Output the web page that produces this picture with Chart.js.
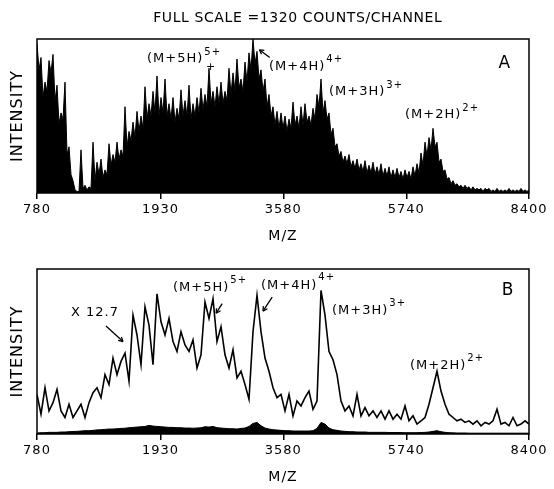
<!DOCTYPE html>
<html><head><meta charset="utf-8">
<script src="https://cdn.jsdelivr.net/npm/chart.js@4.4.1/dist/chart.umd.min.js"></script>
<style>
html,body{margin:0;padding:0;background:#fff;}
#wrap{position:relative;width:554px;height:489px;background:#fff;}
.box{position:absolute;left:0;width:554px;}
</style></head><body>
<div id="wrap">
<div class="box" style="top:0;height:248px"><canvas id="ca" width="554" height="248"></canvas></div>
<div class="box" style="top:248px;height:241px"><canvas id="cb" width="554" height="241"></canvas></div>
</div>
<script>
// ---- data ----
const tickLabels = [780, 1930, 3580, 5740, 8400];          // m/z tick labels (TOF axis, linear in sqrt(m/z))
const titleText = 'FULL SCALE =1320 COUNTS/CHANNEL';
const ionLabels = ['(M+5H)', '(M+4H)', '(M+3H)', '(M+2H)'];
const ionCharges = ['5+', '4+', '3+', '2+'];
const scaleNote = 'X 12.7';

// panel A: intensity per channel (even flight-time steps), % of full scale
const spectrumA = [
 97,80,88,62,72,66,86,78,90,60,70,45,52,48,72,25,30,12,8,2,
 1,1,28,3,5,2,4,3,33,8,20,12,22,10,15,12,32,18,25,20,
 33,22,28,24,56,30,40,34,46,36,53,40,50,42,69,48,58,50,66,52,
 76,50,62,52,74,50,58,48,62,46,55,48,67,50,60,50,70,48,58,50,
 62,52,68,54,64,56,81,58,66,56,69,58,72,58,66,60,81,64,78,66,
 87,68,74,66,85,72,91,80,100,84,92,74,80,66,74,56,64,50,56,44,
 53,42,52,42,50,40,48,42,59,44,50,42,56,44,58,46,50,44,55,48,
 64,56,74,52,60,48,52,38,42,30,32,24,27,20,24,19,25,17,21,16,
 22,15,19,14,21,13,18,13,20,12,17,12,19,11,16,11,17,10,15,10,
 16,10,14,9,15,10,14,9,17,11,19,13,26,18,33,24,36,28,42,30,
 33,20,22,14,15,9,10,6,8,5,6,4,5,3,5,3,4,2,4,2,
 3,2,3,1,3,2,3,1,2,1,3,1,2,1,2,1,3,1,2,1,
 2,1,3,1,2,1,2];

// panel B: expanded trace (x12.7), % of panel height
const spectrumBx12 = [
 24,12,28,14,19,27,14,10,18,10,
 14,18,10,19,25,28,22,36,30,46,
 36,44,49,32,72,60,42,77,66,42,
 85,68,60,70,56,50,62,54,50,57,
 40,48,80,70,82,56,65,48,40,51,
 34,38,30,21,62,84,62,46,38,28,
 22,24,14,24,11,20,17,22,26,15,
 20,87,72,50,45,36,20,14,17,11,
 24,11,16,11,14,10,14,9,14,9,
 12,9,17,8,11,6,8,10,18,28,
 38,26,18,12,10,8,9,7,8,6,
 8,5,7,6,8,15,6,7,5,10,
 5,6,8,6];

// panel B: unexpanded spectrum (filled, bottom)
const spectrumB = [
 0.6,0.8,0.8,1,1,1,1.2,1.2,1.4,
 1.5,1.6,1.8,2,2,2.2,2.5,2.6,2.8,
 3,3,3.2,3.4,3.5,3.8,4,4.2,4.4,
 4.6,5.2,4.8,4.6,4.4,4.2,4,4,3.8,
 3.8,3.6,3.6,3.5,3.6,3.8,4.4,4.2,4.6,
 3.8,3.6,3.4,3.2,3.2,3,3.4,3.6,4.6,
 6.4,7,5,3.6,3,2.6,2.4,2.2,2,
 2,1.8,1.8,1.8,1.8,1.8,2,3.4,7,
 6,3.6,2.6,2.2,1.8,1.6,1.4,1.4,1.2,
 1.2,1.2,1,1,1,1,1,0.9,0.9,
 0.9,0.9,0.8,0.8,0.8,0.8,0.9,1,1.2,
 1.6,2,1.4,1,0.8,0.7,0.6,0.6,0.6,
 0.5,0.5,0.5,0.5,0.5,0.5,0.5,0.5,0.5,0.5,0.5,0.5,0.5,0.5,0.5,0.5];

// ---- helpers ----
const FONT = 'DejaVu Sans';
const sMin = Math.sqrt(tickLabels[0]), sMax = Math.sqrt(tickLabels[tickLabels.length-1]);
const tOf = mz => (Math.sqrt(mz) - sMin) / (sMax - sMin);      // normalized flight time
const pts = arr => arr.map((v, i) => ({x: i / (arr.length - 1), y: v}));

function xScale(){
  return {
    type: 'linear', min: 0, max: 1,
    afterBuildTicks: s => { s.ticks = tickLabels.map(m => ({value: tOf(m)})); },
    ticks: {callback: (v, i) => String(tickLabels[i]), autoSkip: false, maxRotation: 0,
            font: {family: FONT, size: 13}, color: '#000', padding: 3},
    grid: {display: true, drawOnChartArea: false, drawTicks: true, tickLength: 6, color: '#000', lineWidth: 1.5},
    border: {display: false},
    title: {display: true, text: 'M/Z', color: '#000', font: {family: FONT, size: 14}, padding: {top: 0, bottom: 3}},
    afterFit: s => { s.height = 55; }
  };
}
function yScale(){
  return {
    min: 0, max: 100,
    ticks: {display: false}, grid: {display: false}, border: {display: false},
    title: {display: true, text: 'INTENSITY', color: '#000', font: {family: FONT, size: 16}, padding: {top: 8, bottom: 0}},
    afterFit: s => { s.width = 37; }
  };
}

function arrow(ctx, x1, y1, x2, y2){
  ctx.beginPath(); ctx.moveTo(x1, y1); ctx.lineTo(x2, y2); ctx.stroke();
  const a = Math.atan2(y2 - y1, x2 - x1), h = 5;
  ctx.beginPath();
  ctx.moveTo(x2, y2); ctx.lineTo(x2 - h*Math.cos(a - 0.5), y2 - h*Math.sin(a - 0.5));
  ctx.moveTo(x2, y2); ctx.lineTo(x2 - h*Math.cos(a + 0.5), y2 - h*Math.sin(a + 0.5));
  ctx.stroke();
}

function decorPlugin(panel){
  return {
    id: 'decor' + panel.letter,
    beforeDraw(chart){ chart.ctx.letterSpacing = '1px'; },
    afterDatasetsDraw(chart){
      const {ctx, chartArea: a, scales: {x, y}} = chart;
      ctx.save();
      ctx.letterSpacing = '1px';
      ctx.strokeStyle = '#000'; ctx.lineWidth = 1.5;
      ctx.strokeRect(a.left, a.top, a.right - a.left, a.bottom - a.top);
      ctx.fillStyle = '#000';
      ctx.textBaseline = 'middle'; ctx.textAlign = 'left';
      panel.ions.forEach(o => {
        const px = x.getPixelForValue(o.t), py = y.getPixelForValue(o.pct);
        ctx.font = '13px "' + FONT + '"';
        const txt = ionLabels[o.i];
        ctx.fillText(txt, px, py);
        const w = ctx.measureText(txt).width;
        ctx.font = '10px "' + FONT + '"';
        ctx.fillText(ionCharges[o.i], px + w + 1, py - (o.supUp || 7));
      });
      ctx.lineWidth = 1.3;
      (panel.arrows || []).forEach(r => {
        arrow(ctx, x.getPixelForValue(r[0]), y.getPixelForValue(r[1]), x.getPixelForValue(r[2]), y.getPixelForValue(r[3]));
      });
      (panel.notes || []).forEach(n => {
        ctx.font = (n.size || 13) + 'px "' + FONT + '"';
        ctx.textAlign = n.align || 'left';
        ctx.fillText(n.text, x.getPixelForValue(n.t), y.getPixelForValue(n.pct));
      });
      if (panel.title) {
        ctx.font = '14px "' + FONT + '"';
        ctx.letterSpacing = '0.6px';
        ctx.textAlign = 'center';
        ctx.fillText(panel.title, x.getPixelForValue(0.53), 18);
      }
      ctx.restore();
    }
  };
}

const panelA = {
  letter: 'A', title: titleText,
  ions: [{i:0, t:0.2236, pct:87}, {i:1, t:0.4715, pct:82}, {i:2, t:0.5935, pct:65.6}, {i:3, t:0.748, pct:50.6}],
  arrows: [[0.473, 88, 0.452, 93]],
  notes: [{text:'A', t:0.951, pct:84, size:17, align:'center'}, {text:'+', t:0.3537, pct:82, size:11, align:'center'}]
};
const panelB = {
  letter: 'B',
  ions: [{i:0, t:0.2764, pct:89}, {i:1, t:0.4553, pct:89.7, supUp: 9}, {i:2, t:0.5996, pct:74.7}, {i:3, t:0.7581, pct:41.4}],
  arrows: [[0.1402, 65.5, 0.1748, 56], [0.3764, 79, 0.3642, 73.2], [0.478, 83, 0.4593, 74.5]],
  notes: [{text:'B', t:0.9573, pct:86.8, size:17, align:'center'}, {text: scaleNote, t:0.0691, pct:73.6, size:13}]
};

new Chart(document.getElementById('ca'), {
  type: 'line',
  data: {datasets: [{data: pts(spectrumA), borderColor: '#000', backgroundColor: '#000', borderWidth: 1,
                     fill: 'origin', pointRadius: 0, tension: 0}]},
  options: {
    responsive: false, animation: false, devicePixelRatio: 1,
    layout: {padding: {top: 39, left: 0, right: 25, bottom: 0}},
    plugins: {legend: {display: false}, tooltip: {enabled: false}, title: {display: false}},
    scales: {x: xScale(), y: yScale()}
  },
  plugins: [decorPlugin(panelA)]
});

new Chart(document.getElementById('cb'), {
  type: 'line',
  data: {datasets: [
    {data: pts(spectrumBx12), borderColor: '#000', borderWidth: 1.6, fill: false, pointRadius: 0, tension: 0},
    {data: pts(spectrumB), borderColor: '#000', backgroundColor: '#000', borderWidth: 1, fill: 'origin', pointRadius: 0, tension: 0}
  ]},
  options: {
    responsive: false, animation: false, devicePixelRatio: 1,
    layout: {padding: {top: 21, left: 0, right: 25, bottom: 0}},
    plugins: {legend: {display: false}, tooltip: {enabled: false}},
    scales: {x: xScale(), y: yScale()}
  },
  plugins: [decorPlugin(panelB)]
});
</script>
</body></html>
